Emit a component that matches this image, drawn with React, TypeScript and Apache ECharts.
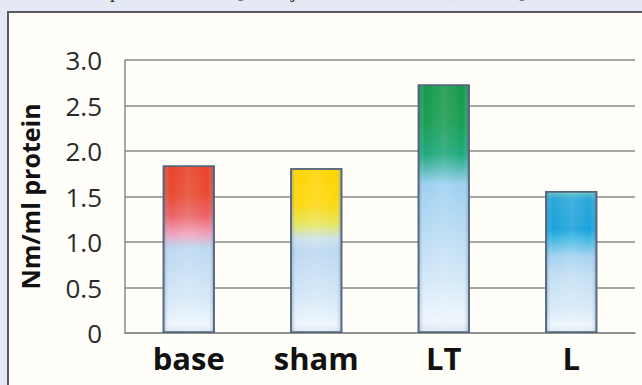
import React, { useEffect, useRef } from "react";
import * as echarts from "echarts";

const categories = ["base", "sham", "LT", "L"];
const values = [1.84, 1.81, 2.73, 1.56];
const yMin = 0;
const yMax = 3;
const yStep = 0.5;
const yAxisName = "Nm/ml protein";
const topFragments = ["p", "[", "j", ",", "]"];

const fragmentX = [110, 237, 291, 452, 519];

const barStops: [number, string][][] = [
  [[0, "#e8412a"], [0.17, "#e84a30"], [0.3, "#eb6468"], [0.41, "#f0a2bf"], [0.49, "#bcd8f0"], [0.8, "#d6e9f8"], [0.95, "#eef6fc"], [1, "#dce8f4"]],
  [[0, "#ffd400"], [0.22, "#fcd812"], [0.34, "#e6e662"], [0.43, "#cde2ee"], [0.5, "#bcd8f0"], [0.8, "#d6e9f8"], [0.95, "#eef6fc"], [1, "#dce8f4"]],
  [[0, "#16984a"], [0.15, "#1a9e52"], [0.28, "#20a87e"], [0.34, "#58bcb8"], [0.4, "#9ed0f0"], [0.8, "#d6e9f8"], [0.95, "#eef6fc"], [1, "#dce8f4"]],
  [[0, "#66c6c0"], [0.05, "#2aa6d8"], [0.27, "#1aa2dc"], [0.33, "#3cb8e0"], [0.46, "#a4d2f2"], [0.6, "#c4e0f4"], [0.85, "#daebf8"], [0.95, "#eef6fc"], [1, "#dce8f4"]],
];

function grad(stops: [number, string][]) {
  return {
    type: "linear",
    x: 0,
    y: 0,
    x2: 0,
    y2: 1,
    colorStops: stops.map(([offset, color]) => ({ offset, color })),
  };
}

export default function App() {
  const ref = useRef<HTMLDivElement>(null);
  useEffect(() => {
    if (!ref.current) return;
    const chart = echarts.init(ref.current, null, { renderer: "svg" });
    chart.setOption({
      animation: false,
      backgroundColor: "transparent",
      grid: { left: 125, right: 7, top: 60, bottom: 52, containLabel: false },
      graphic: topFragments.map((t, i) => ({
        type: "text",
        x: fragmentX[i],
        y: 0,
        style: {
          text: t,
          font: "20px 'Liberation Serif', serif",
          fill: "#222",
          verticalAlign: "bottom",
        },
      })),
      xAxis: {
        type: "category",
        data: categories,
        axisLine: { show: true, lineStyle: { color: "#8a8a8a", width: 1.5 } },
        axisTick: { show: false },
        axisLabel: {
          color: "#111",
          fontFamily: "'Open Sans', sans-serif",
          fontWeight: "bold",
          fontSize: 31,
          margin: 9,
        },
      },
      yAxis: {
        type: "value",
        min: yMin,
        max: yMax,
        interval: yStep,
        name: yAxisName,
        nameLocation: "middle",
        nameGap: 83,
        nameTextStyle: {
          color: "#111",
          fontFamily: "'Open Sans', sans-serif",
          fontWeight: "bold",
          fontSize: 25,
        },
        axisLine: { show: true, lineStyle: { color: "#8a8a8a", width: 1.5 } },
        axisTick: { show: false },
        splitLine: { lineStyle: { color: "#8a8a8a", width: 1.5 } },
        axisLabel: {
          color: "#2a2a2a",
          fontFamily: "'Open Sans', sans-serif",
          fontSize: 26,
          margin: 23,
          formatter: (v: number) => (v === 0 ? "0" : v.toFixed(1)),
        },
      },
      series: [
        {
          type: "bar",
          barWidth: 52,
          data: values.map((v, i) => ({
            value: v,
            itemStyle: {
              color: grad(barStops[i]),
              borderColor: "#56657c",
              borderWidth: 1.5,
            },
          })),
          z: 2,
        },
        {
          type: "bar",
          barWidth: 52,
          barGap: "-100%",
          silent: true,
          data: values,
          itemStyle: {
            color: {
              type: "linear",
              x: 0,
              y: 0,
              x2: 1,
              y2: 0,
              colorStops: [
                { offset: 0, color: "rgba(60,95,150,0.4)" },
                { offset: 0.12, color: "rgba(255,255,255,0)" },
                { offset: 0.5, color: "rgba(255,255,255,0.12)" },
                { offset: 0.88, color: "rgba(255,255,255,0)" },
                { offset: 1, color: "rgba(60,95,150,0.4)" },
              ],
            },
            borderColor: "#56657c",
            borderWidth: 1.5,
          },
          z: 3,
        },
      ],
    });
    return () => chart.dispose();
  }, []);

  return (
    <div
      style={{
        position: "fixed",
        left: 0,
        top: 0,
        width: 642,
        height: 385,
        background: "#e4e9f4",
        overflow: "hidden",
      }}
    >
      <div
        style={{
          position: "absolute",
          left: 7,
          top: 11,
          width: 700,
          height: 372,
          borderLeft: "2px solid #5a5a5a",
          borderTop: "2px solid #5a5a5a",
          borderBottom: "1px solid #c8ccd4",
          background: "#fffef9",
        }}
      />
      <div ref={ref} style={{ position: "absolute", left: 0, top: 0, width: 642, height: 385 }} />
    </div>
  );
}
